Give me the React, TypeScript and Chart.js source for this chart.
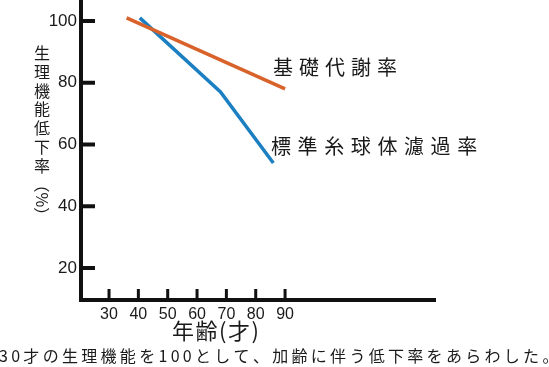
import React, { useEffect, useRef } from "react";
import { Chart, registerables } from "chart.js";

Chart.register(...registerables);

const bmrAges = [36, 90];
const bmrValues = [101, 78];
const gfrAges = [40.5, 68, 86];
const gfrValues = [101, 77, 54];
const yTickValues = [20, 40, 60, 80, 100];
const xTickValues = [30, 40, 50, 60, 70, 80, 90];
const bmrLabel = "基礎代謝率";
const gfrLabel = "標準糸球体濾過率";
const yTitleMain = "生理機能低下率";
const yTitleUnit = "（%）";
const xTitle = "年齢(才)";
const caption = "30才の生理機能を100として、加齢に伴う低下率をあらわした。";

const CJK = '"Noto Sans CJK JP", "Noto Sans", sans-serif';
const NUM = '"Liberation Sans", Arial, sans-serif';

function drawSpaced(ctx: CanvasRenderingContext2D, text: string, x: number, y: number, spacing: number) {
  let cx = x;
  for (const ch of Array.from(text)) {
    ctx.fillText(ch, cx, y);
    cx += ctx.measureText(ch).width + spacing;
  }
}

const decorPlugin = {
  id: "decor",
  afterDraw(chart: any) {
    const ctx: CanvasRenderingContext2D = chart.ctx;
    const xs = chart.scales.x;
    const ys = chart.scales.y;
    const area = chart.chartArea;
    ctx.save();
    ctx.fillStyle = "#111";
    for (const v of yTickValues) {
      const y = ys.getPixelForValue(v);
      ctx.fillRect(area.left, y - 2, 14, 4);
    }
    for (const v of xTickValues) {
      const x = xs.getPixelForValue(v);
      ctx.fillRect(x - 1.5, area.bottom - 11, 3, 11);
    }
    ctx.fillStyle = "#1a1a1a";
    ctx.textBaseline = "middle";
    ctx.textAlign = "left";
    ctx.font = `20px ${CJK}`;
    drawSpaced(ctx, bmrLabel, 273, 67, 6);
    drawSpaced(ctx, gfrLabel, 271, 146, 6.6);
    // y title vertical
    ctx.font = `16px ${CJK}`;
    ctx.textAlign = "center";
    let cy = 53;
    for (const ch of Array.from(yTitleMain)) {
      ctx.fillText(ch, 42, cy);
      cy += 18.8;
    }
    ctx.save();
    ctx.translate(42, cy - 8);
    ctx.rotate(Math.PI / 2);
    ctx.textAlign = "left";
    drawSpaced(ctx, yTitleUnit, 0, 0, 0);
    ctx.restore();
    ctx.textAlign = "left";
    ctx.font = `22px ${CJK}`;
    drawSpaced(ctx, xTitle, 172, 331, 1.5);
    ctx.font = `16px ${CJK}`;
    drawSpaced(ctx, caption, -1, 356, 3.3);
    ctx.restore();
  },
};

export default function App() {
  const ref = useRef<HTMLCanvasElement>(null);
  useEffect(() => {
    if (!ref.current) return;
    const chart = new Chart(ref.current, {
      type: "scatter",
      data: {
        datasets: [
          {
            label: bmrLabel,
            data: bmrAges.map((a, i) => ({ x: a, y: bmrValues[i] })),
            showLine: true,
            borderColor: "#d9622b",
            borderWidth: 3.5,
            pointRadius: 0,
            borderCapStyle: "butt",
          },
          {
            label: gfrLabel,
            data: gfrAges.map((a, i) => ({ x: a, y: gfrValues[i] })),
            showLine: true,
            borderColor: "#1b7fc2",
            borderWidth: 3.5,
            pointRadius: 0,
            borderCapStyle: "butt",
          },
        ],
      },
      options: {
        responsive: false,
        animation: false,
        layout: { padding: { left: 0, right: 114, top: 0, bottom: 0 } },
        plugins: { legend: { display: false }, tooltip: { enabled: false } },
        scales: {
          x: {
            type: "linear",
            min: 20.45,
            max: 141.1,
            afterBuildTicks: (s: any) => {
              s.ticks = xTickValues.map((v) => ({ value: v }));
            },
            afterFit: (s: any) => {
              s.height = 67;
              s.paddingLeft = 0;
              s.paddingRight = 0;
            },
            grid: { display: false, drawTicks: false },
            border: { display: true, color: "#111", width: 4 },
            ticks: {
              color: "#1a1a1a",
              font: { family: NUM, size: 16 },
              padding: 5,
              maxRotation: 0,
              autoSkip: false,
            },
          },
          y: {
            type: "linear",
            min: 9.64,
            max: 106.8,
            afterBuildTicks: (s: any) => {
              s.ticks = yTickValues.map((v) => ({ value: v }));
            },
            afterFit: (s: any) => {
              s.width = 81;
              s.paddingTop = 0;
              s.paddingBottom = 0;
            },
            grid: { display: false, drawTicks: false },
            border: { display: true, color: "#111", width: 4 },
            ticks: {
              color: "#1a1a1a",
              font: { family: NUM, size: 17 },
              padding: 4,
              autoSkip: false,
            },
          },
        },
      },
      plugins: [decorPlugin],
    } as any);
    return () => chart.destroy();
  }, []);
  return (
    <div style={{ position: "fixed", left: 0, top: 0, width: 549, height: 367, background: "#fff" }}>
      <canvas ref={ref} width={549} height={367} style={{ width: 549, height: 367, display: "block" }} />
    </div>
  );
}
